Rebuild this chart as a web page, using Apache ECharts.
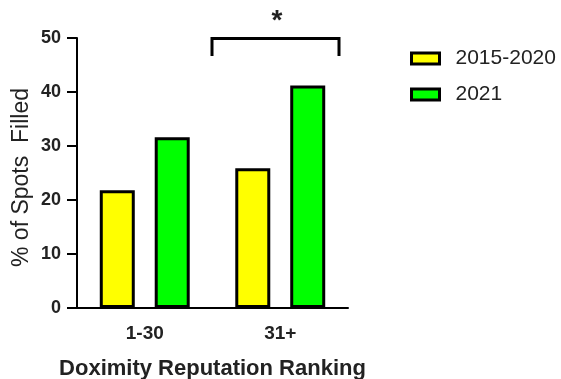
<!DOCTYPE html>
<html>
<head>
<meta charset="utf-8">
<script src="https://cdn.jsdelivr.net/npm/echarts@6/dist/echarts.min.js"></script>
<style>html,body{margin:0;padding:0;background:#fff;}#c{width:561px;height:379px;}</style>
</head>
<body>
<div id="c"></div>
<script>
var categories = ['1-30', '31+'];
var seriesNames = ['2015-2020', '2021'];
var values2015_2020 = [21.8, 25.9];
var values2021 = [31.6, 41.2];
var yTicks = [0, 10, 20, 30, 40, 50];

var FONT = 'Arial, "Liberation Sans", sans-serif';
var chart = echarts.init(document.getElementById('c'), null, {renderer: 'canvas'});
chart.setOption({
  animation: false,
  backgroundColor: '#fff',
  grid: {left: 77, right: 213, top: 38, bottom: 71, containLabel: false, outerBoundsMode: 'none'},
  legend: {
    orient: 'vertical', left: 410, top: 48, itemWidth: 28, itemHeight: 11, itemGap: 15,
    padding: 0, icon: 'rect',
    itemStyle: {borderColor: '#000', borderWidth: 3, borderRadius: 0},
    textStyle: {fontFamily: FONT, fontSize: 21, color: '#222', padding: [0, 0, 0, 11]},
    data: seriesNames
  },
  xAxis: {
    type: 'category', data: categories,
    axisLine: {lineStyle: {color: '#000', width: 2}},
    axisTick: {alignWithLabel: true, length: 10, lineStyle: {color: '#000', width: 2}},
    axisLabel: {fontFamily: FONT, fontSize: 19, fontWeight: 'bold', color: '#222', margin: 16},
    name: 'Doximity Reputation Ranking', nameLocation: 'middle', nameGap: 50,
    nameTextStyle: {fontFamily: FONT, fontSize: 22, fontWeight: 'bold', color: '#222'}
  },
  yAxis: {
    type: 'value', min: yTicks[0], max: yTicks[yTicks.length - 1], interval: 10,
    splitLine: {show: false},
    axisLine: {show: true, lineStyle: {color: '#000', width: 2}},
    axisTick: {show: true, length: 10, lineStyle: {color: '#000', width: 2}},
    axisLabel: {fontFamily: FONT, fontSize: 18, fontWeight: 'bold', color: '#222', margin: 16},
    name: '% of Spots  Filled', nameLocation: 'middle', nameGap: 44, nameRotate: 90,
    nameTextStyle: {fontFamily: FONT, fontSize: 23, color: '#222', padding: [0, 9, 0, 0]}
  },
  series: [
    {name: seriesNames[0], type: 'bar', data: values2015_2020, barWidth: 35, barGap: '57%',
     itemStyle: {color: '#FFFF00', borderColor: '#000', borderWidth: 3, borderRadius: 0}},
    {name: seriesNames[1], type: 'bar', data: values2021, barWidth: 35, barGap: '57%',
     itemStyle: {color: '#00FF00', borderColor: '#000', borderWidth: 3, borderRadius: 0}}
  ],
  graphic: [
    {type: 'polyline', shape: {points: [[212, 56], [212, 38.5], [339, 38.5], [339, 56]]},
     style: {stroke: '#000', lineWidth: 3, fill: null}},
    {type: 'text', x: 277, y: 21, style: {text: '*', fontFamily: FONT, fontSize: 28, fontWeight: 'bold', fill: '#222', align: 'center', verticalAlign: 'middle'}}
  ]
});
</script>
</body>
</html>
